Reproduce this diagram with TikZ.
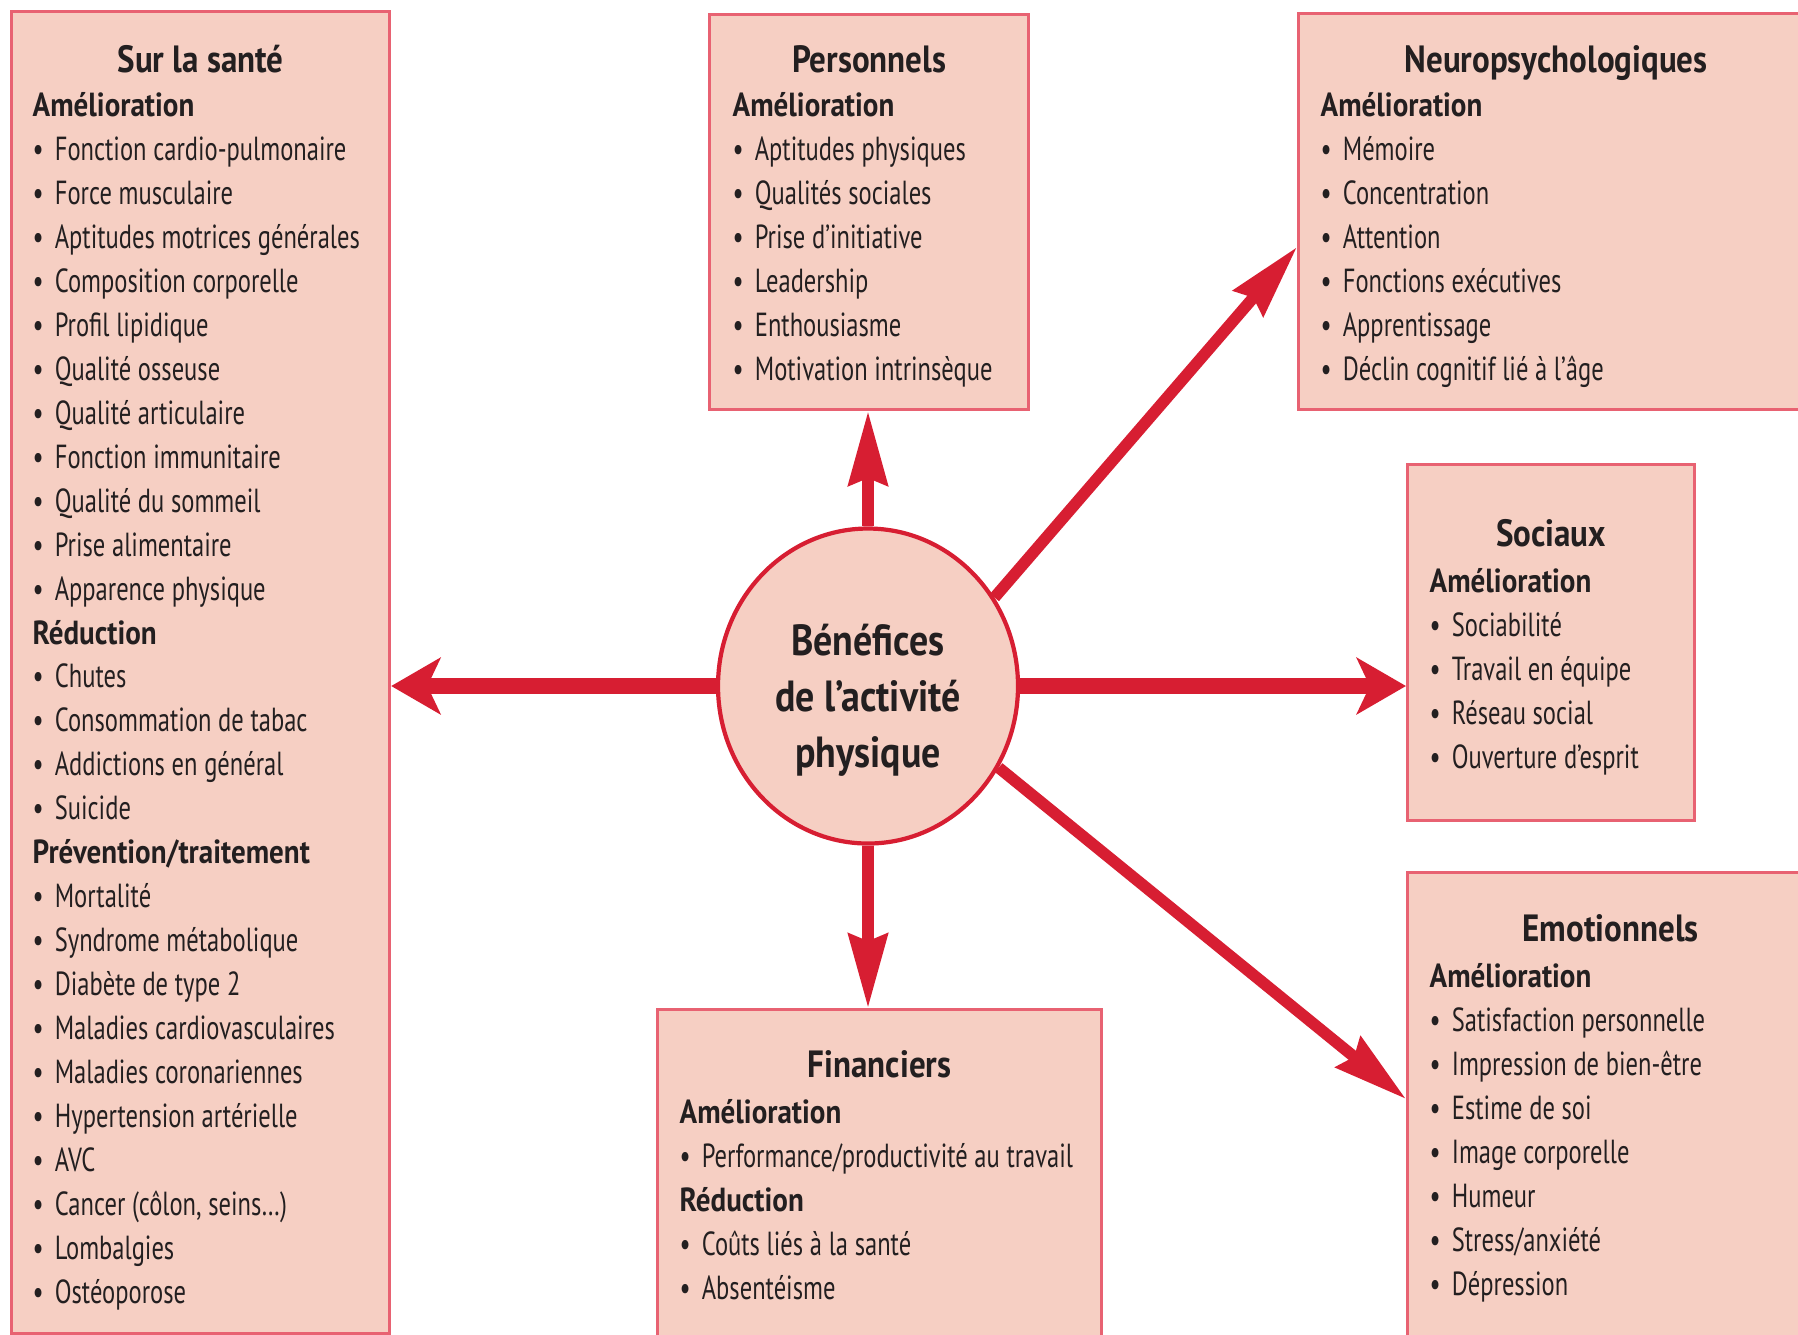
\documentclass[tikz,border=0pt]{standalone}
\usepackage{fontspec}
\setmainfont{PT Sans}[FakeStretch=0.735, BoldFeatures={FakeStretch=0.87}]
\usepackage{tikz}
\usetikzlibrary{arrows.meta,shapes.geometric}
\definecolor{bfpink}{RGB}{246,207,195}
\definecolor{bfedge}{RGB}{232,98,114}
\definecolor{bfred}{RGB}{215,30,50}
\definecolor{bftext}{RGB}{35,31,32}
\tikzstyle{panel} = [rectangle, anchor=north west, draw=bfedge, fill=bfpink, line width=0.9pt, inner sep=0pt]
\tikzstyle{ptitle} = [anchor=base, inner sep=0pt, text=bftext, font=\fontsize{10.8}{12.5}\selectfont\bfseries]
\tikzstyle{plist} = [anchor=north west, inner sep=0pt, align=left, text width=60mm, text=bftext, font=\fontsize{9.5}{12.5}\selectfont]
\tikzstyle{bigarrow} = [draw=bfred, line width=4.4pt, -{Stealth[length=14pt, width=16pt, inset=3.7pt]}]
\tikzstyle{slimarrow} = [draw=bfred, line width=3.3pt, -{Stealth[length=21pt, width=11pt, inset=2pt]}]
\newcommand{\itm}[1]{\makebox[6.3pt][l]{\textbullet}#1}
\newcommand{\hd}[1]{\textbf{#1}}
\newcommand{\strt}{\spaceskip 0.2em plus 0.05em\relax\rule{0pt}{10pt}}

\begin{document}
\begin{tikzpicture}[x=0.1mm, y=-0.1mm]
\useasboundingbox (0,0) rectangle (1798,1334);
\clip (0,0) rectangle (1798,1334);

% Panels
\node[panel, minimum width=37.8mm, minimum height=132.2mm] (sante) at (10,10) {};
\node[panel, minimum width=31.9mm, minimum height=39.5mm] (perso) at (708,13) {};
\node[panel, minimum width=51.5mm, minimum height=39.6mm] (neuro) at (1297,12) {};
\node[panel, minimum width=28.7mm, minimum height=35.6mm] (soc) at (1406,463) {};
\node[panel, minimum width=40.6mm, minimum height=48mm] (emo) at (1406,871) {};
\node[panel, minimum width=44.4mm, minimum height=34mm] (fin) at (656,1008) {};

% Titles
\node[ptitle] (santettl) at ([shift={(0,62)}]sante.north) {Sur la santé};
\node[ptitle] (persottl) at ([shift={(0,59)}]perso.north) {Personnels};
\node[ptitle] (neurottl) at ([shift={(0,60)}]neuro.north) {Neuropsychologiques};
\node[ptitle] (socttl) at ([shift={(0,83)}]soc.north) {Sociaux};
\node[ptitle] (emottl) at ([shift={(0,70)}]emo.north) {Emotionnels};
\node[ptitle] (finttl) at ([shift={(0,69)}]fin.north) {Financiers};

% Lists
\node[plist] (santelist) at ([shift={(22,71)}]sante.north west) {\strt\hd{Amélioration}\\
\itm{Fonction cardio-pulmonaire}\\
\itm{Force musculaire}\\
\itm{Aptitudes motrices générales}\\
\itm{Composition corporelle}\\
\itm{Profil lipidique}\\
\itm{Qualité osseuse}\\
\itm{Qualité articulaire}\\
\itm{Fonction immunitaire}\\
\itm{Qualité du sommeil}\\
\itm{Prise alimentaire}\\
\itm{Apparence physique}\\
\hd{Réduction}\\
\itm{Chutes}\\
\itm{Consommation de tabac}\\
\itm{Addictions en général}\\
\itm{Suicide}\\
\hd{Prévention/traitement}\\
\itm{Mortalité}\\
\itm{Syndrome métabolique}\\
\itm{Diabète de type 2}\\
\itm{Maladies cardiovasculaires}\\
\itm{Maladies coronariennes}\\
\itm{Hypertension artérielle}\\
\itm{AVC}\\
\itm{Cancer (côlon, seins…)}\\
\itm{Lombalgies}\\
\itm{Ostéoporose}};
\node[plist] (persolist) at ([shift={(24,68)}]perso.north west) {\strt\hd{Amélioration}\\
\itm{Aptitudes physiques}\\
\itm{Qualités sociales}\\
\itm{Prise d’initiative}\\
\itm{Leadership}\\
\itm{Enthousiasme}\\
\itm{Motivation intrinsèque}};
\node[plist] (neurolist) at ([shift={(23,69)}]neuro.north west) {\strt\hd{Amélioration}\\
\itm{Mémoire}\\
\itm{Concentration}\\
\itm{Attention}\\
\itm{Fonctions exécutives}\\
\itm{Apprentissage}\\
\itm{Déclin cognitif lié à l’âge}};
\node[plist] (soclist) at ([shift={(23,94)}]soc.north west) {\strt\hd{Amélioration}\\
\itm{Sociabilité}\\
\itm{Travail en équipe}\\
\itm{Réseau social}\\
\itm{Ouverture d’esprit}};
\node[plist] (emolist) at ([shift={(23,81)}]emo.north west) {\strt\hd{Amélioration}\\
\itm{Satisfaction personnelle}\\
\itm{Impression de bien-être}\\
\itm{Estime de soi}\\
\itm{Image corporelle}\\
\itm{Humeur}\\
\itm{Stress/anxiété}\\
\itm{Dépression}};
\node[plist] (finlist) at ([shift={(23,80)}]fin.north west) {\strt\hd{Amélioration}\\
\itm{Performance/productivité au travail}\\
\hd{Réduction}\\
\itm{Coûts liés à la santé}\\
\itm{Absentéisme}};

% Centre
\node[ellipse, draw=bfred, line width=1.2pt, fill=bfpink, minimum width=30mm, minimum height=31.5mm, inner sep=0pt] (ben) at (868,686) {};
\node[align=center, inner sep=0pt, text=bftext, font=\fontsize{12.4}{16}\selectfont\bfseries] (bentxt) at ([shift={(0,14)}]ben.center) {Bénéfices\\de l’activité\\physique};

\coordinate (neuroin) at (1297,247);
\coordinate (emoin) at (1406,1099);

% Arrows
\draw[bigarrow] (ben.west) -- (ben.west -| sante.east);
\draw[bigarrow] (ben.east) -- (ben.east -| soc.west);
\draw[slimarrow] (ben.north) -- (ben.north |- perso.south);
\draw[slimarrow] (ben.south) -- (ben.south |- fin.north);
\draw[slimarrow] (ben.35) -- (neuroin);
\draw[slimarrow] (ben.-32) -- (emoin);
\end{tikzpicture}
\end{document}
